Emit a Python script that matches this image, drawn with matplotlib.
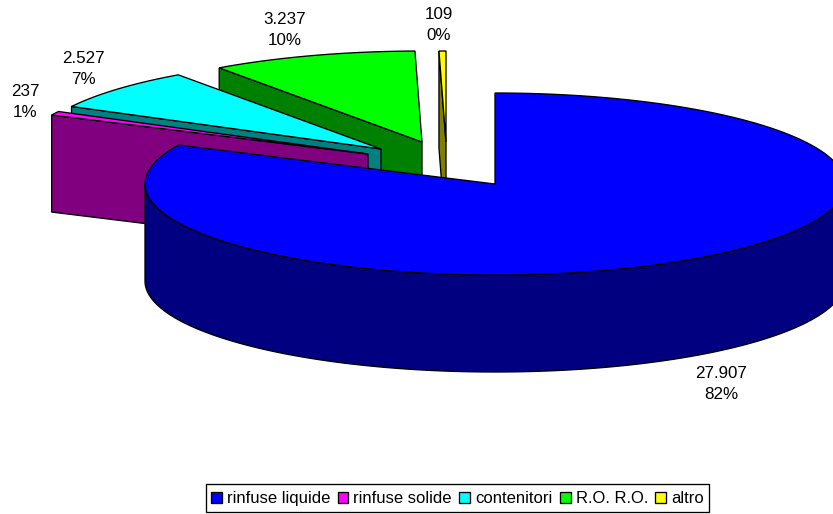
import numpy as np
import matplotlib
matplotlib.use("Agg")
import matplotlib.pyplot as plt
from matplotlib.patches import Polygon, Patch, Rectangle

categories = ["rinfuse liquide", "rinfuse solide", "contenitori", "R.O. R.O.", "altro"]
values = [27907, 237, 2527, 3237, 109]

top_colors = ["#0000FF", "#FF00FF", "#00FFFF", "#00FF00", "#FFFF00"]
side_colors = ["#000080", "#800080", "#008080", "#008000", "#808000"]

# pie projection, in pixels
RX, RY, DEPTH = 350, 91, 97
apexes = [(495, 184), (368, 154), (381, 149), (422, 142), (446, 142)]
label_pos = [(721, 384), (25, 102), (83.5, 69), (285, 30), (439, 25)]
FS = 17 * 72 / 100
LEG_FS = 16.6 * 72 / 100
LW = 0.95

plt.rcParams["font.family"] = ["Liberation Sans", "DejaVu Sans"]
fig = plt.figure(figsize=(8.33, 5.14), dpi=100)
ax = fig.add_axes([0, 0, 1, 1])
ax.set_xlim(0, 833)
ax.set_ylim(514, 0)
ax.axis("off")


def rim(center, a0, a1, dy=0, n=160):
    t = np.radians(np.linspace(a0, a1, n))
    return np.column_stack([center[0] + RX * np.sin(t), center[1] - RY * np.cos(t) + dy])


total = sum(values)
edges = np.concatenate([[0], np.cumsum(values)]) / total * 360

for i in [4, 3, 2, 1, 0]:
    a0, a1 = edges[i], edges[i + 1]
    c = np.array(apexes[i], dtype=float)
    if i == 0:
        # front wall of the large slice
        upper = rim(c, 90, 270)
        lower = rim(c, 270, 90, DEPTH)
        wall = np.vstack([upper, lower])
    else:
        # cut wall seen on the start radius of an exploded slice
        s = rim(c, a0, a0, n=1)[0]
        wall = np.array([s, c, c + [0, DEPTH], s + [0, DEPTH]])
    ax.add_patch(Polygon(wall, closed=True, fc=side_colors[i], ec="black", lw=LW, joinstyle="miter"))
    top = np.vstack([[c], rim(c, a0, a1)])
    ax.add_patch(Polygon(top, closed=True, fc=top_colors[i], ec="black", lw=LW, joinstyle="miter"))

for v, (x, y) in zip(values, label_pos):
    txt = f"{v:,}".replace(",", ".") + f"\n{round(v / total * 100)}%"
    ax.text(x, y, txt, ha="center", va="center", fontsize=FS, color="black", linespacing=1.5)

# legend frame and legend
ax.add_patch(Rectangle((206, 484), 503, 28, fc="white", ec="black", lw=LW))
handles = [Patch(fc=col, ec="black", lw=LW) for col in top_colors]
leg = fig.legend(handles, categories, ncols=5, loc="center", bbox_to_anchor=(457.5 / 833, 1 - 498.5 / 514),
                 fontsize=LEG_FS, frameon=False,
                 handlelength=0.65, handleheight=0.65, handletextpad=0.3, columnspacing=0.45,
                 borderpad=0.3, borderaxespad=0)

fig.savefig("out.png", dpi=100)
